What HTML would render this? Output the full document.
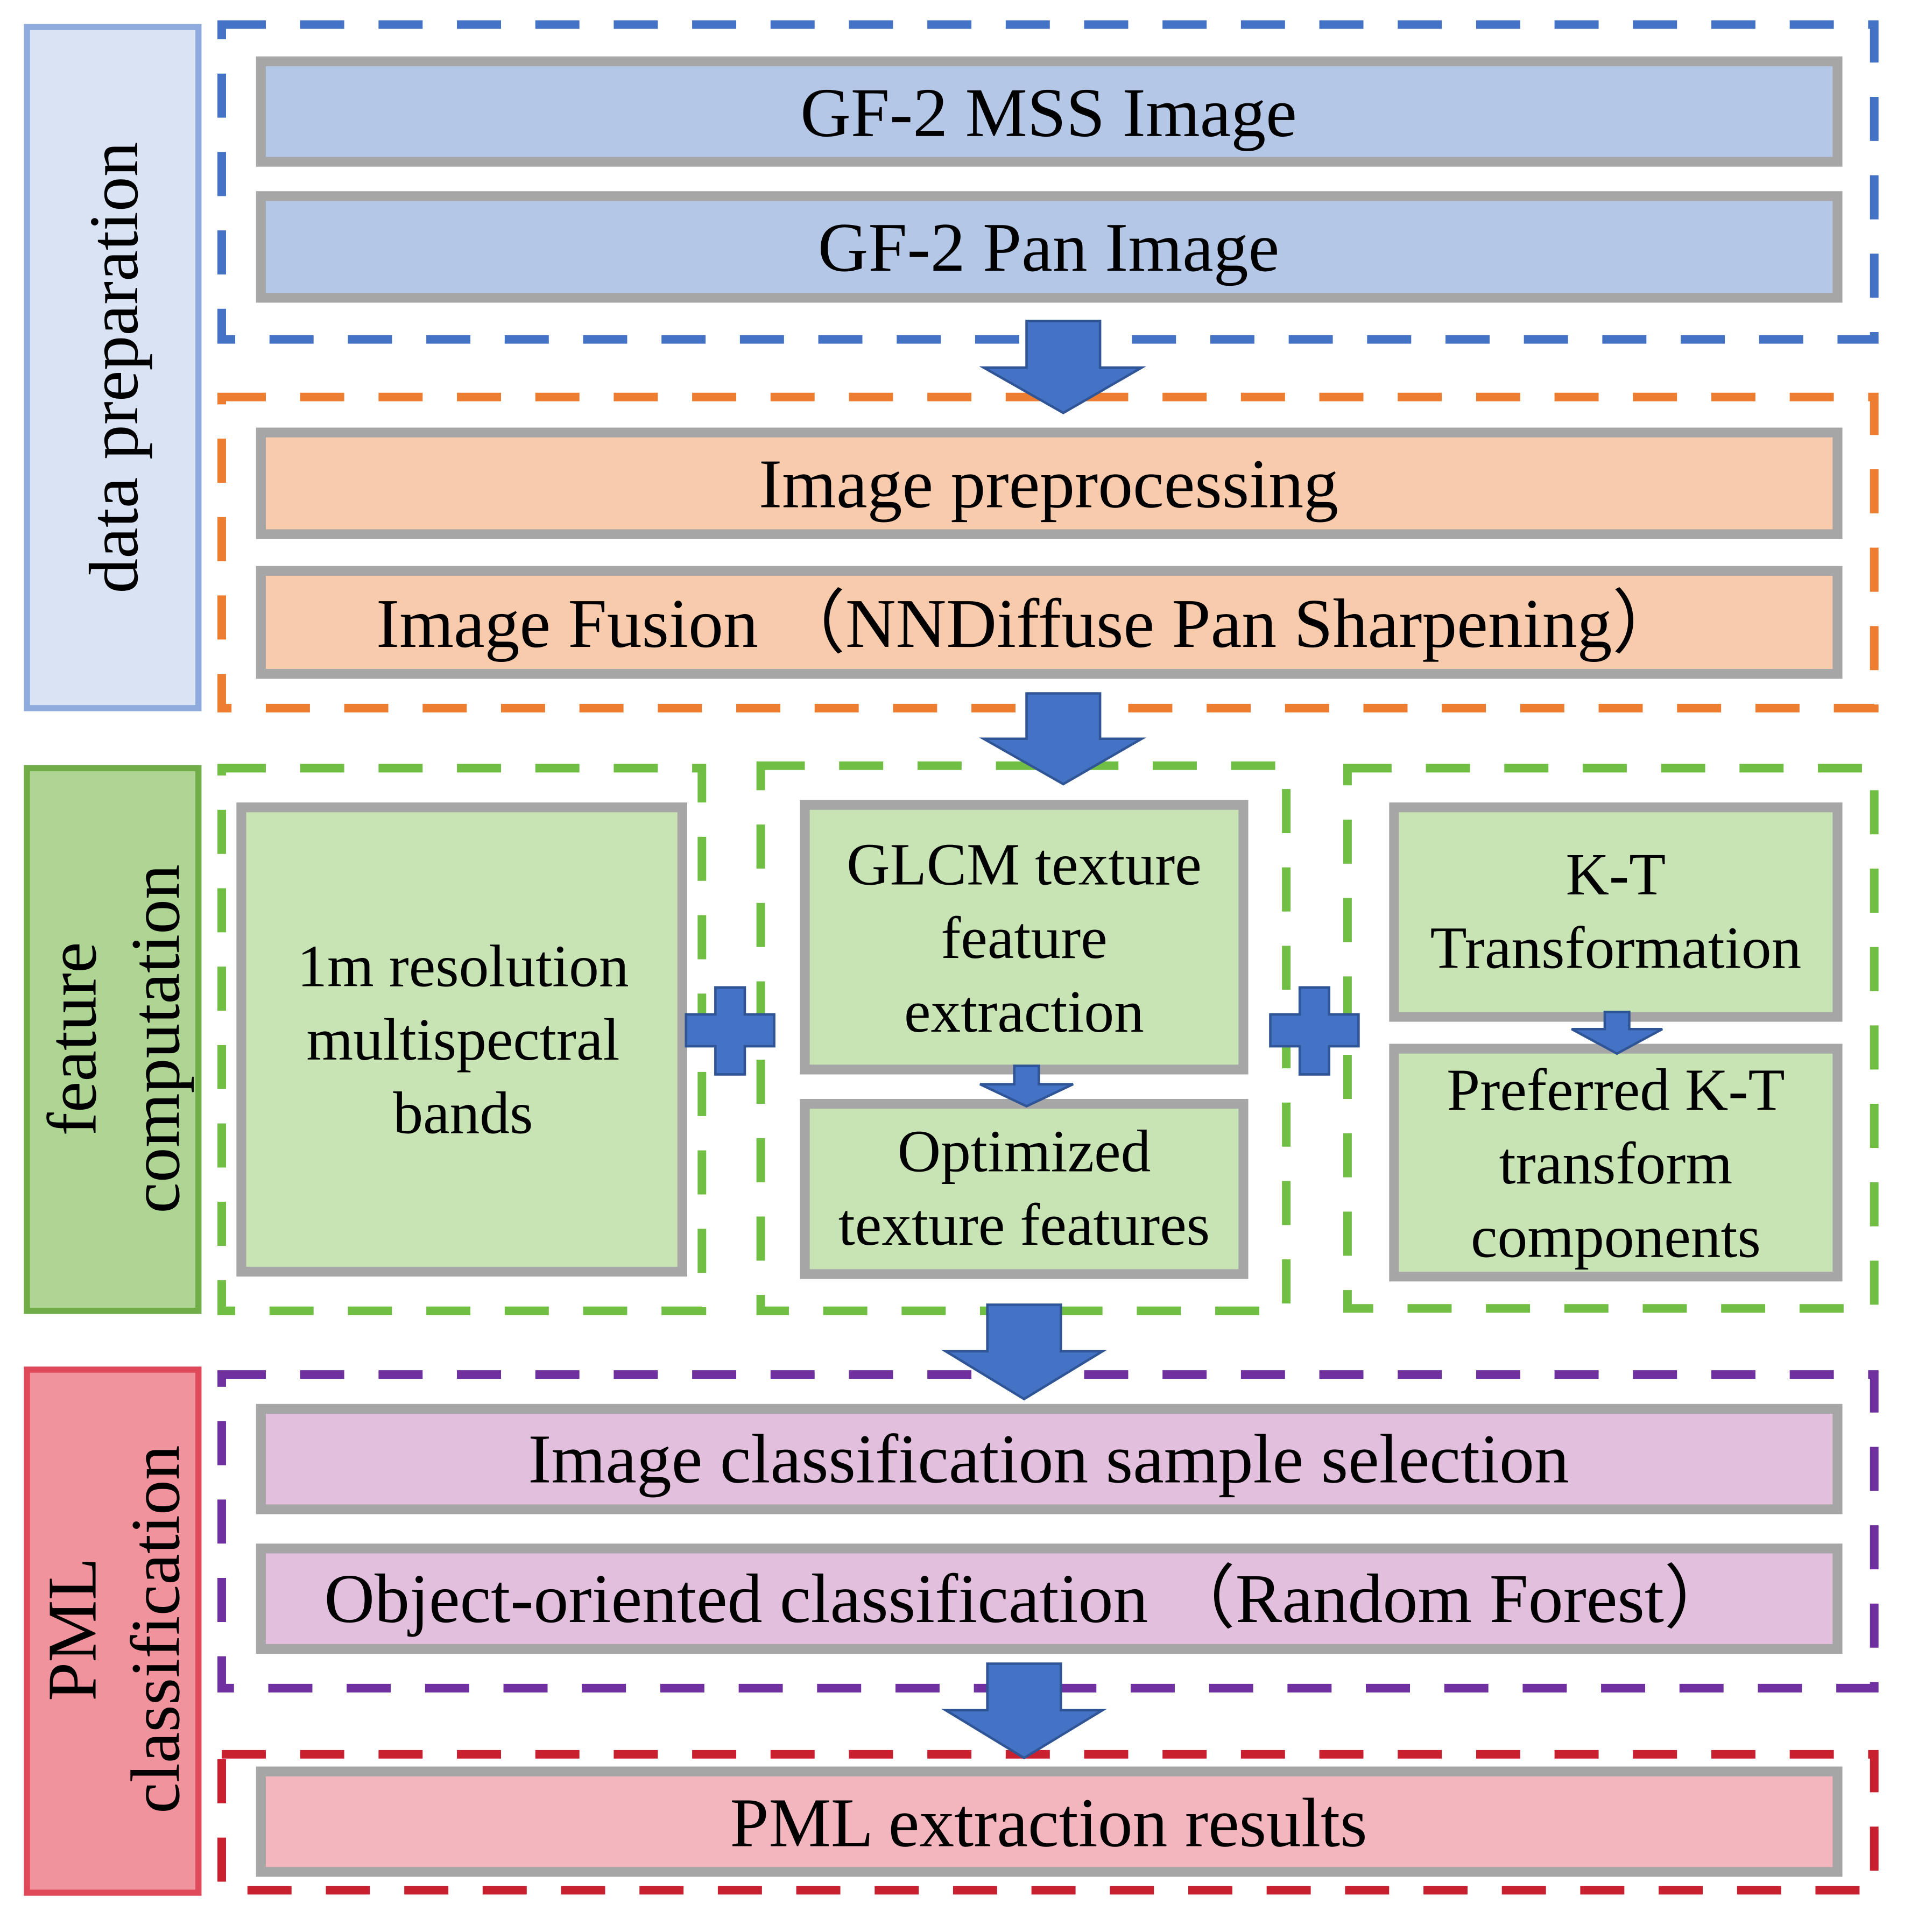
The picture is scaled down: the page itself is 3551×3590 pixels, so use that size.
<!DOCTYPE html>
<html><head><meta charset="utf-8"><style>
html,body{margin:0;padding:0;background:#fff}
svg{display:block}
text{font-family:"Liberation Serif",serif;fill:#000}
</style></head><body>
<svg width="3551" height="3590" viewBox="0 0 1560 1577" xmlns="http://www.w3.org/2000/svg">
<rect width="1560" height="1577" fill="#fff"/>
<rect x="22" y="22" width="140" height="556" fill="#dae3f3" stroke="#8faadc" stroke-width="5"/>
<rect x="22" y="627" width="140" height="443" fill="#afd595" stroke="#70ad47" stroke-width="5"/>
<rect x="22" y="1118" width="140" height="427" fill="#f0939d" stroke="#e0495a" stroke-width="5"/>
<text transform="translate(112,300) rotate(-90)" text-anchor="middle" font-size="57">data preparation</text>
<text transform="translate(78,848) rotate(-90)" text-anchor="middle" font-size="57">feature</text>
<text transform="translate(146,848) rotate(-90)" text-anchor="middle" font-size="57">computation</text>
<text transform="translate(78,1330) rotate(-90)" text-anchor="middle" font-size="57">PML</text>
<text transform="translate(146,1330) rotate(-90)" text-anchor="middle" font-size="57">classification</text>
<g fill="none" stroke-width="7" stroke-dasharray="36 28">
<rect x="181" y="20" width="1349" height="257" stroke="#4472c4"/>
<rect x="181" y="324" width="1349" height="254" stroke="#ed7d31"/>
<rect x="181" y="627" width="392" height="443" stroke="#70bf44"/>
<rect x="621" y="625" width="429" height="445" stroke="#70bf44"/>
<rect x="1100" y="627" width="430" height="441" stroke="#70bf44"/>
<rect x="181" y="1122" width="1349" height="256" stroke="#7030a0"/>
<rect x="181" y="1432" width="1349" height="111" stroke="#c8202f"/>
</g>
<g stroke="#a6a6a6" stroke-width="8">
<rect x="213" y="50" width="1287" height="82" fill="#b4c7e7"/>
<rect x="213" y="160" width="1287" height="83" fill="#b4c7e7"/>
<rect x="213" y="353" width="1287" height="83" fill="#f8cbad"/>
<rect x="213" y="466" width="1287" height="84" fill="#f8cbad"/>
<rect x="197" y="659" width="360" height="379" fill="#c9e4b4"/>
<rect x="657" y="657" width="358" height="216" fill="#c9e4b4"/>
<rect x="657" y="901" width="358" height="139" fill="#c9e4b4"/>
<rect x="1138" y="659" width="362" height="171" fill="#c9e4b4"/>
<rect x="1138" y="856" width="362" height="186" fill="#c9e4b4"/>
<rect x="213" y="1150" width="1287" height="82" fill="#e2bfdd"/>
<rect x="213" y="1264" width="1287" height="82" fill="#e2bfdd"/>
<rect x="213" y="1446" width="1287" height="82" fill="#f4b6be"/>
</g>
<g fill="#4472c4" stroke="#2f5597" stroke-width="2">
<polygon points="838,262 898,262 898,300 932,300 868,337 803,300 838,300"/>
<polygon points="838,566 898,566 898,603 932,603 868,640 803,603 838,603"/>
<polygon points="806,1065 866,1065 866,1103 900,1103 836,1142 772,1103 806,1103"/>
<polygon points="806,1358 866,1358 866,1396 900,1396 836,1435 772,1396 806,1396"/>
<polygon points="828,870 848,870 848,885 876,885 838,903 800,885 828,885"/>
<polygon points="1310,826 1330,826 1330,840 1357,840 1320,860 1283,840 1310,840"/>
<polygon points="584,806 608,806 608,828 632,828 632,854 608,854 608,877 584,877 584,854 560,854 560,828 584,828"/>
<polygon points="1061,806 1085,806 1085,828 1109,828 1109,854 1085,854 1085,877 1061,877 1061,854 1037,854 1037,828 1061,828"/>
</g>
<g text-anchor="middle" font-size="57">
<text x="856" y="111">GF-2 MSS Image</text>
<text x="856" y="221">GF-2 Pan Image</text>
<text x="856" y="414">Image preprocessing</text>
<text x="840" y="528">Image Fusion （NNDiffuse Pan Sharpening）</text>
<text x="856" y="1210">Image classification sample selection</text>
<text x="840" y="1324">Object-oriented classification （Random Forest）</text>
<text x="856" y="1507">PML extraction results</text>
</g>
<g text-anchor="middle" font-size="49">
<text x="378" y="805">1m resolution</text>
<text x="378" y="865">multispectral</text>
<text x="378" y="925">bands</text>
<text x="836" y="722">GLCM texture</text>
<text x="836" y="782">feature</text>
<text x="836" y="842">extraction</text>
<text x="836" y="956">Optimized</text>
<text x="836" y="1016">texture features</text>
<text x="1319" y="730">K-T</text>
<text x="1319" y="790">Transformation</text>
<text x="1319" y="906">Preferred K-T</text>
<text x="1319" y="966">transform</text>
<text x="1319" y="1026">components</text>
</g>
</svg>
</body></html>
